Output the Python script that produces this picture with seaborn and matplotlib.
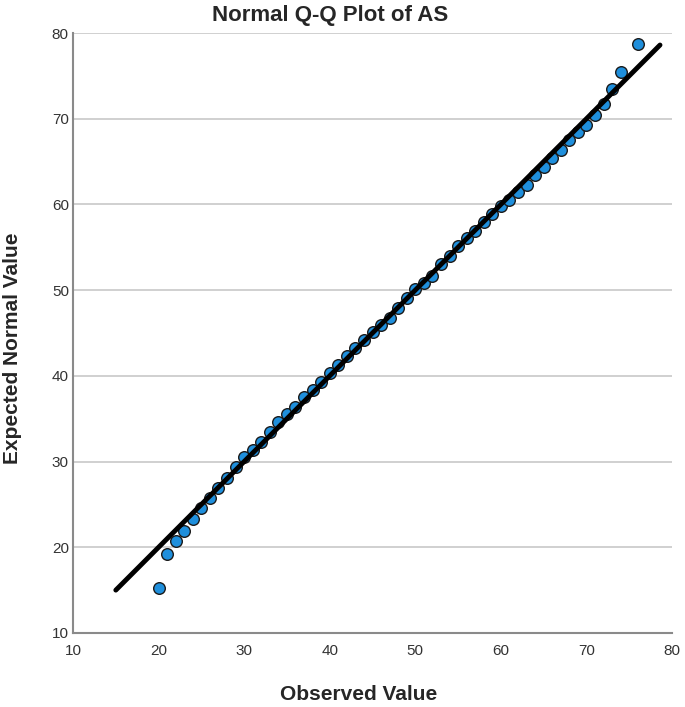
import matplotlib
matplotlib.use("Agg")
import matplotlib.pyplot as plt
import seaborn as sns
import pandas as pd

observed = [20, 21, 22, 23, 24, 25, 26, 27, 28, 29,
            30, 31, 32, 33, 34, 35, 36, 37, 38, 39,
            40, 41, 42, 43, 44, 45, 46, 47, 48, 49,
            50, 51, 52, 53, 54, 55, 56, 57, 58, 59,
            60, 61, 62, 63, 64, 65, 66, 67, 68, 69,
            70, 71, 72, 73, 74, 76]
expected = [15.2, 19.2, 20.7, 21.9, 23.3, 24.6, 25.8, 26.9, 28.1, 29.4,
            30.5, 31.3, 32.3, 33.5, 34.6, 35.5, 36.4, 37.5, 38.4, 39.3,
            40.3, 41.3, 42.3, 43.2, 44.2, 45.1, 45.9, 46.8, 47.9, 49.1,
            50.1, 50.8, 51.7, 53.0, 54.0, 55.1, 56.1, 56.9, 57.9, 58.9,
            59.8, 60.5, 61.4, 62.3, 63.4, 64.4, 65.4, 66.4, 67.5, 68.4,
            69.3, 70.4, 71.7, 73.5, 75.4, 78.7]

# reference line (expected = observed)
line_x = [15.0, 78.6]
line_y = [15.0, 78.6]

ticks = [10, 20, 30, 40, 50, 60, 70, 80]

sns.set_theme(style="white")
plt.rcParams['font.family'] = ['Liberation Sans', 'DejaVu Sans']

df = pd.DataFrame({'Observed': observed, 'Expected': expected})
ref = pd.DataFrame({'x': line_x, 'y': line_y})

fig = plt.figure(figsize=(6.85, 7.07), dpi=100)
ax = fig.add_axes([0.1066, 0.1047, 0.8744, 0.8486])

# points first, fit line drawn over them
sns.scatterplot(data=df, x='Observed', y='Expected', s=70, color='#1f8fdc',
                edgecolor='#1a1a1a', linewidth=1.0, ax=ax, zorder=2)
sns.lineplot(data=ref, x='x', y='y', color='black', linewidth=3.5, ax=ax, zorder=3)

ax.set_xlim(10, 80)
ax.set_ylim(10, 80)
ax.set_xticks(ticks)
ax.set_yticks(ticks)
ax.tick_params(axis='both', length=0, labelsize=11, labelcolor='#333333')
ax.tick_params(axis='x', pad=8)
ax.tick_params(axis='y', pad=3)

ax.grid(axis='y', color='#c8c8c8', linewidth=1.2)
ax.set_axisbelow(True)
for side in ['top', 'right']:
    ax.spines[side].set_visible(False)
for side in ['left', 'bottom']:
    ax.spines[side].set_color('#8a8a8a')
    ax.spines[side].set_linewidth(1.5)

ax.set_xlabel('Observed Value', fontsize=15, fontweight='bold')
ax.set_ylabel('Expected Normal Value', fontsize=15, fontweight='bold')
ax.xaxis.set_label_coords(0.4775, -0.087)
ax.yaxis.set_label_coords(-0.085, 0.475)

fig.text(330 / 685, 1 - 15 / 707, 'Normal Q-Q Plot of AS', ha='center', va='center',
         fontsize=16, fontweight='bold')

fig.savefig('out.png', dpi=100)
